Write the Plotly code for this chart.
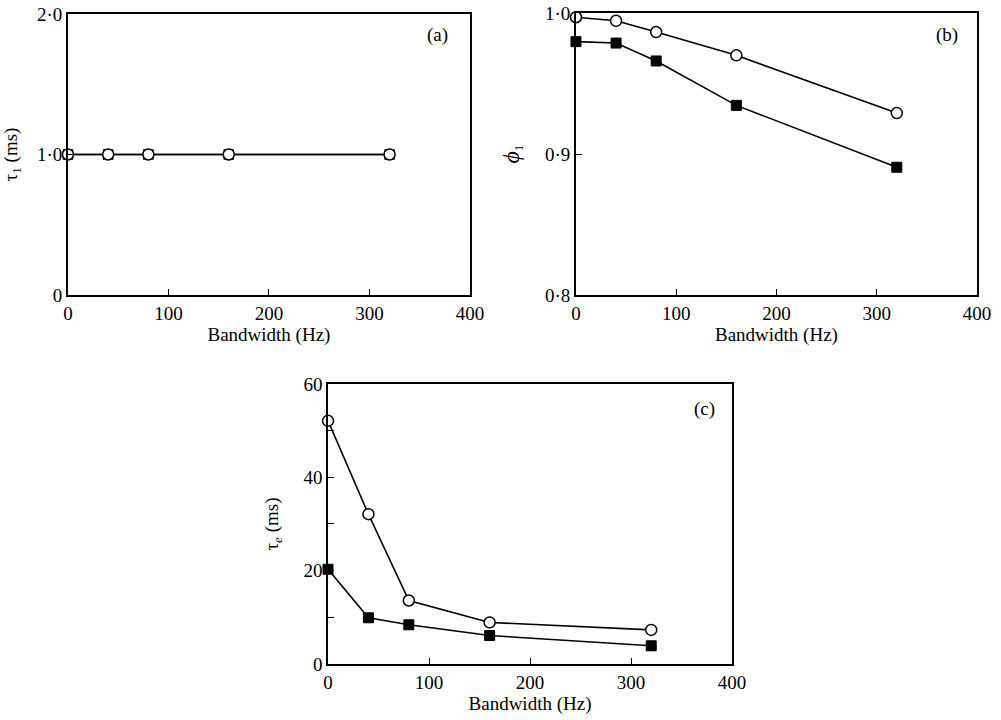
import plotly.graph_objects as go

bandwidth = [0, 40, 80, 160, 320]

tau1_open = [1.0, 1.0, 1.0, 1.0, 1.0]
tau1_filled = [1.0, 1.0, 1.0, 1.0, 1.0]

phi1_open = [0.997, 0.9945, 0.9865, 0.970, 0.929]
phi1_filled = [0.9797, 0.9787, 0.966, 0.9345, 0.8906]

taue_open = [52.1, 32.1, 13.6, 8.9, 7.3]
taue_filled = [20.3, 9.9, 8.4, 6.1, 3.9]

x_ticks = [0, 100, 200, 300, 400]
ya_ticks = [0, 1.0, 2.0]
ya_text = ["0", "1·0", "2·0"]
yb_ticks = [0.8, 0.9, 1.0]
yb_text = ["0·8", "0·9", "1·0"]
yc_ticks = [0, 20, 40, 60]
yc_text = ["0", "20", "40", "60"]
yc_minor = [10, 30, 50]

FONT = "Liberation Serif, Times New Roman, serif"
FS = 19
LW = 1.6

fig = go.Figure()

def add_pair(xa, ya, opn, fil, square_style="filled"):
    if square_style == "filled":
        sq = dict(symbol="square", size=10, color="black", line=dict(color="black", width=1))
    else:
        sq = dict(symbol="square", size=9, color="white", line=dict(color="black", width=1.5))
    fig.add_trace(go.Scatter(x=bandwidth, y=fil, mode="lines+markers", xaxis=xa, yaxis=ya,
                             line=dict(color="black", width=LW), marker=sq, cliponaxis=False,
                             showlegend=False))
    fig.add_trace(go.Scatter(x=bandwidth, y=opn, mode="lines+markers", xaxis=xa, yaxis=ya,
                             line=dict(color="black", width=LW),
                             marker=dict(symbol="circle", size=11, color="white",
                                         line=dict(color="black", width=1.5)),
                             cliponaxis=False, showlegend=False))

add_pair("x", "y", tau1_open, tau1_filled, square_style="open")
add_pair("x2", "y2", phi1_open, phi1_filled)
add_pair("x3", "y3", taue_open, taue_filled)

def xax(domain, anchor):
    return dict(domain=domain, anchor=anchor, range=[0, 400], tickvals=x_ticks,
                ticks="inside", ticklen=6, tickwidth=1.2, tickcolor="black",
                showline=True, linecolor="black", linewidth=LW, mirror=True,
                showgrid=False, zeroline=False, automargin=False,
                tickfont=dict(family=FONT, size=FS, color="black"),
                title=dict(text="Bandwidth (Hz)", font=dict(family=FONT, size=FS, color="black"),
                           standoff=4))

def yax(domain, anchor, rng, tv, tt, title, standoff, minor_vals=None):
    d = dict(domain=domain, anchor=anchor, range=rng, tickvals=tv, ticktext=tt,
             ticks="inside", ticklen=6, tickwidth=1.2, tickcolor="black",
             showline=True, linecolor="black", linewidth=LW, mirror=True,
             showgrid=False, zeroline=False, automargin=False,
             tickfont=dict(family=FONT, size=FS, color="black"),
             title=dict(text=title, font=dict(family=FONT, size=FS, color="black"),
                        standoff=standoff))
    if minor_vals:
        d["minor"] = dict(tickvals=minor_vals, ticks="inside", ticklen=6, tickwidth=1.2,
                          tickcolor="black", showgrid=False)
    return d

def panel_label(text, xr, yr, x, y):
    return dict(text=text, xref=xr, yref=yr, x=x, y=y, xanchor="center", yanchor="middle",
                showarrow=False, font=dict(family=FONT, size=FS, color="black"))

fig.update_layout(
    width=1001, height=720,
    margin=dict(l=0, r=0, t=0, b=0, autoexpand=False),
    paper_bgcolor="white", plot_bgcolor="white",
    font=dict(family=FONT, size=FS, color="black"),
    xaxis=xax([0.0679, 0.4695], "y"),
    yaxis=yax([0.5903, 0.9806], "x", [0, 2.0], ya_ticks, ya_text, "τ<sub>1</sub> (ms)", 16),
    xaxis2=xax([0.5754, 0.9760], "y2"),
    yaxis2=yax([0.5903, 0.9819], "x2", [0.8, 1.0], yb_ticks, yb_text,
               "<span style='font-size:24px'><i>ϕ</i></span><sub>1</sub>", 20),
    xaxis3=xax([0.3277, 0.7313], "y3"),
    yaxis3=yax([0.0778, 0.4667], "x3", [0, 60], yc_ticks, yc_text, "τ<sub><i>e</i></sub> (ms)", 20,
               minor_vals=yc_minor),
    annotations=[
        panel_label("(a)", "x domain", "y domain", 0.92, 0.925),
        panel_label("(b)", "x2 domain", "y2 domain", 0.925, 0.922),
        panel_label("(c)", "x3 domain", "y3 domain", 0.933, 0.911),
    ],
)

fig.write_html("out.html")
